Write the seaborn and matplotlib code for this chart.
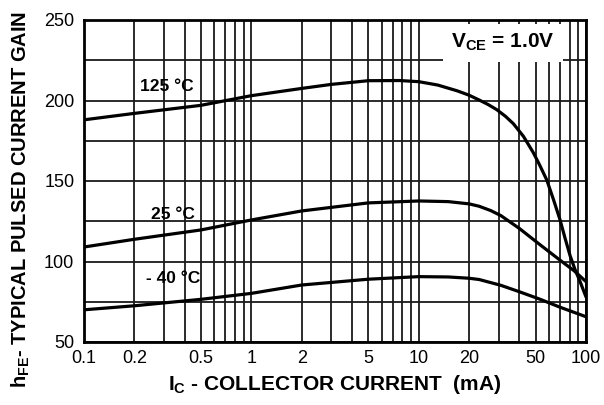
import matplotlib
matplotlib.use("Agg")
import matplotlib.pyplot as plt
import seaborn as sns
import pandas as pd
from matplotlib.ticker import FixedLocator, NullFormatter, FixedFormatter, LogLocator

# ---- data ----
ic_125 = [0.1, 0.2, 0.5, 1, 2, 3, 5, 7.7, 10, 13, 17, 20, 23, 26, 29.3, 33, 36.8, 42.3,
          48.5, 53.2, 58.3, 63.9, 70, 75, 80.4, 86, 92.2, 100]
hfe_125 = [188, 192, 197, 203, 207.5, 210, 212.3, 212.4, 211.7, 209.6, 206, 203.3, 200.3,
           197.5, 194.3, 190.2, 185.6, 177.7, 167.5, 159.3, 150.6, 138.5, 125.8, 114.4,
           103.5, 95, 87.5, 78]

ic_25 = [0.1, 0.2, 0.5, 1, 2, 5, 10, 15, 20, 23, 27, 31, 40, 53, 70, 85, 100]
hfe_25 = [109, 113.8, 119.6, 125.8, 131.4, 136.4, 137.6, 137.2, 135.8, 134.3, 131.6, 128.5,
          120.5, 110.5, 100.8, 94.2, 87.5]

ic_m40 = [0.1, 0.2, 0.5, 1, 2, 5, 10, 15, 20, 23, 31, 40, 53, 70, 100]
hfe_m40 = [70, 72.5, 76.5, 80.2, 85.4, 89, 90.6, 90.4, 89.6, 88.8, 85.2, 81.2, 76.6, 71.6, 65.7]

curve_labels = ["125 °C", "25 °C", "- 40 °C"]
label_x = [0.313, 0.34, 0.34]
label_y = [208.5, 129, 89.3]

x_ticks = [0.1, 0.2, 0.5, 1, 2, 5, 10, 20, 50, 100]
x_tick_labels = ["0.1", "0.2", "0.5", "1", "2", "5", "10", "20", "50", "100"]
y_ticks = [50, 100, 150, 200, 250]
y_grid = [50, 75, 100, 125, 150, 175, 200, 225, 250]

x_label = r"$\mathbf{I_C}$ - COLLECTOR CURRENT  (mA)"
y_label = r"$\mathbf{h_{FE}}$- TYPICAL PULSED CURRENT GAIN"
vce_text = r"$\mathbf{V_{CE}}$ = 1.0V"

# ---- style ----
sns.set_theme(style="white")
plt.rcParams["font.family"] = ["Liberation Sans", "DejaVu Sans"]
plt.rcParams["text.color"] = "black"
plt.rcParams["axes.labelcolor"] = "black"
plt.rcParams["mathtext.fontset"] = "custom"
plt.rcParams["mathtext.rm"] = "Liberation Sans"
plt.rcParams["mathtext.bf"] = "Liberation Sans:bold"
plt.rcParams["mathtext.it"] = "Liberation Sans:italic"

fig = plt.figure(figsize=(6.04, 4.05), dpi=100)
ax = fig.add_axes([84 / 604, 1 - 342 / 405, (586 - 84) / 604, (342 - 20) / 405])

frames = []
for name, xs, ys in [("125", ic_125, hfe_125), ("25", ic_25, hfe_25), ("-40", ic_m40, hfe_m40)]:
    frames.append(pd.DataFrame({"ic": xs, "hfe": ys, "temp": name}))
df = pd.concat(frames, ignore_index=True)

ax.set_xscale("log")
sns.lineplot(data=df, x="ic", y="hfe", units="temp", estimator=None, color="black",
             linewidth=2.3, ax=ax, legend=False, zorder=5)

ax.set_xlim(0.1, 100)
ax.set_ylim(50, 250)

# grid
ax.xaxis.set_major_locator(FixedLocator(x_ticks))
ax.xaxis.set_major_formatter(FixedFormatter(x_tick_labels))
ax.xaxis.set_minor_locator(LogLocator(base=10, subs=range(1, 10)))
ax.xaxis.set_minor_formatter(NullFormatter())
ax.yaxis.set_major_locator(FixedLocator(y_ticks))
ax.yaxis.set_minor_locator(FixedLocator(y_grid))
ax.grid(True, which="both", axis="both", color="#1a1a1a", linewidth=1.3)
ax.set_axisbelow(True)

ax.tick_params(axis="both", which="both", length=0, labelsize=13, colors="black")
ax.tick_params(axis="y", pad=7)
ax.tick_params(axis="x", pad=6)
for s in ax.spines.values():
    s.set_color("black")
    s.set_linewidth(2.0)
    s.set_zorder(6)

ax.set_xlabel(x_label, fontsize=15, fontweight="bold", labelpad=4, color="black")
ax.set_ylabel(y_label, fontsize=14.5, fontweight="bold", color="black")
ax.yaxis.set_label_coords(-0.104, 0.444)

for t, lx, ly in zip(curve_labels, label_x, label_y):
    ax.text(lx, ly, t, fontsize=12.5, fontweight="bold", ha="center", va="center",
            color="black", zorder=7)

ax.text(32, 236, vce_text, fontsize=15, fontweight="bold", ha="center", va="center",
        color="black", zorder=7,
        bbox=dict(boxstyle="square,pad=0.4", fc="white", ec="none"))

fig.savefig("out.png", dpi=100)
